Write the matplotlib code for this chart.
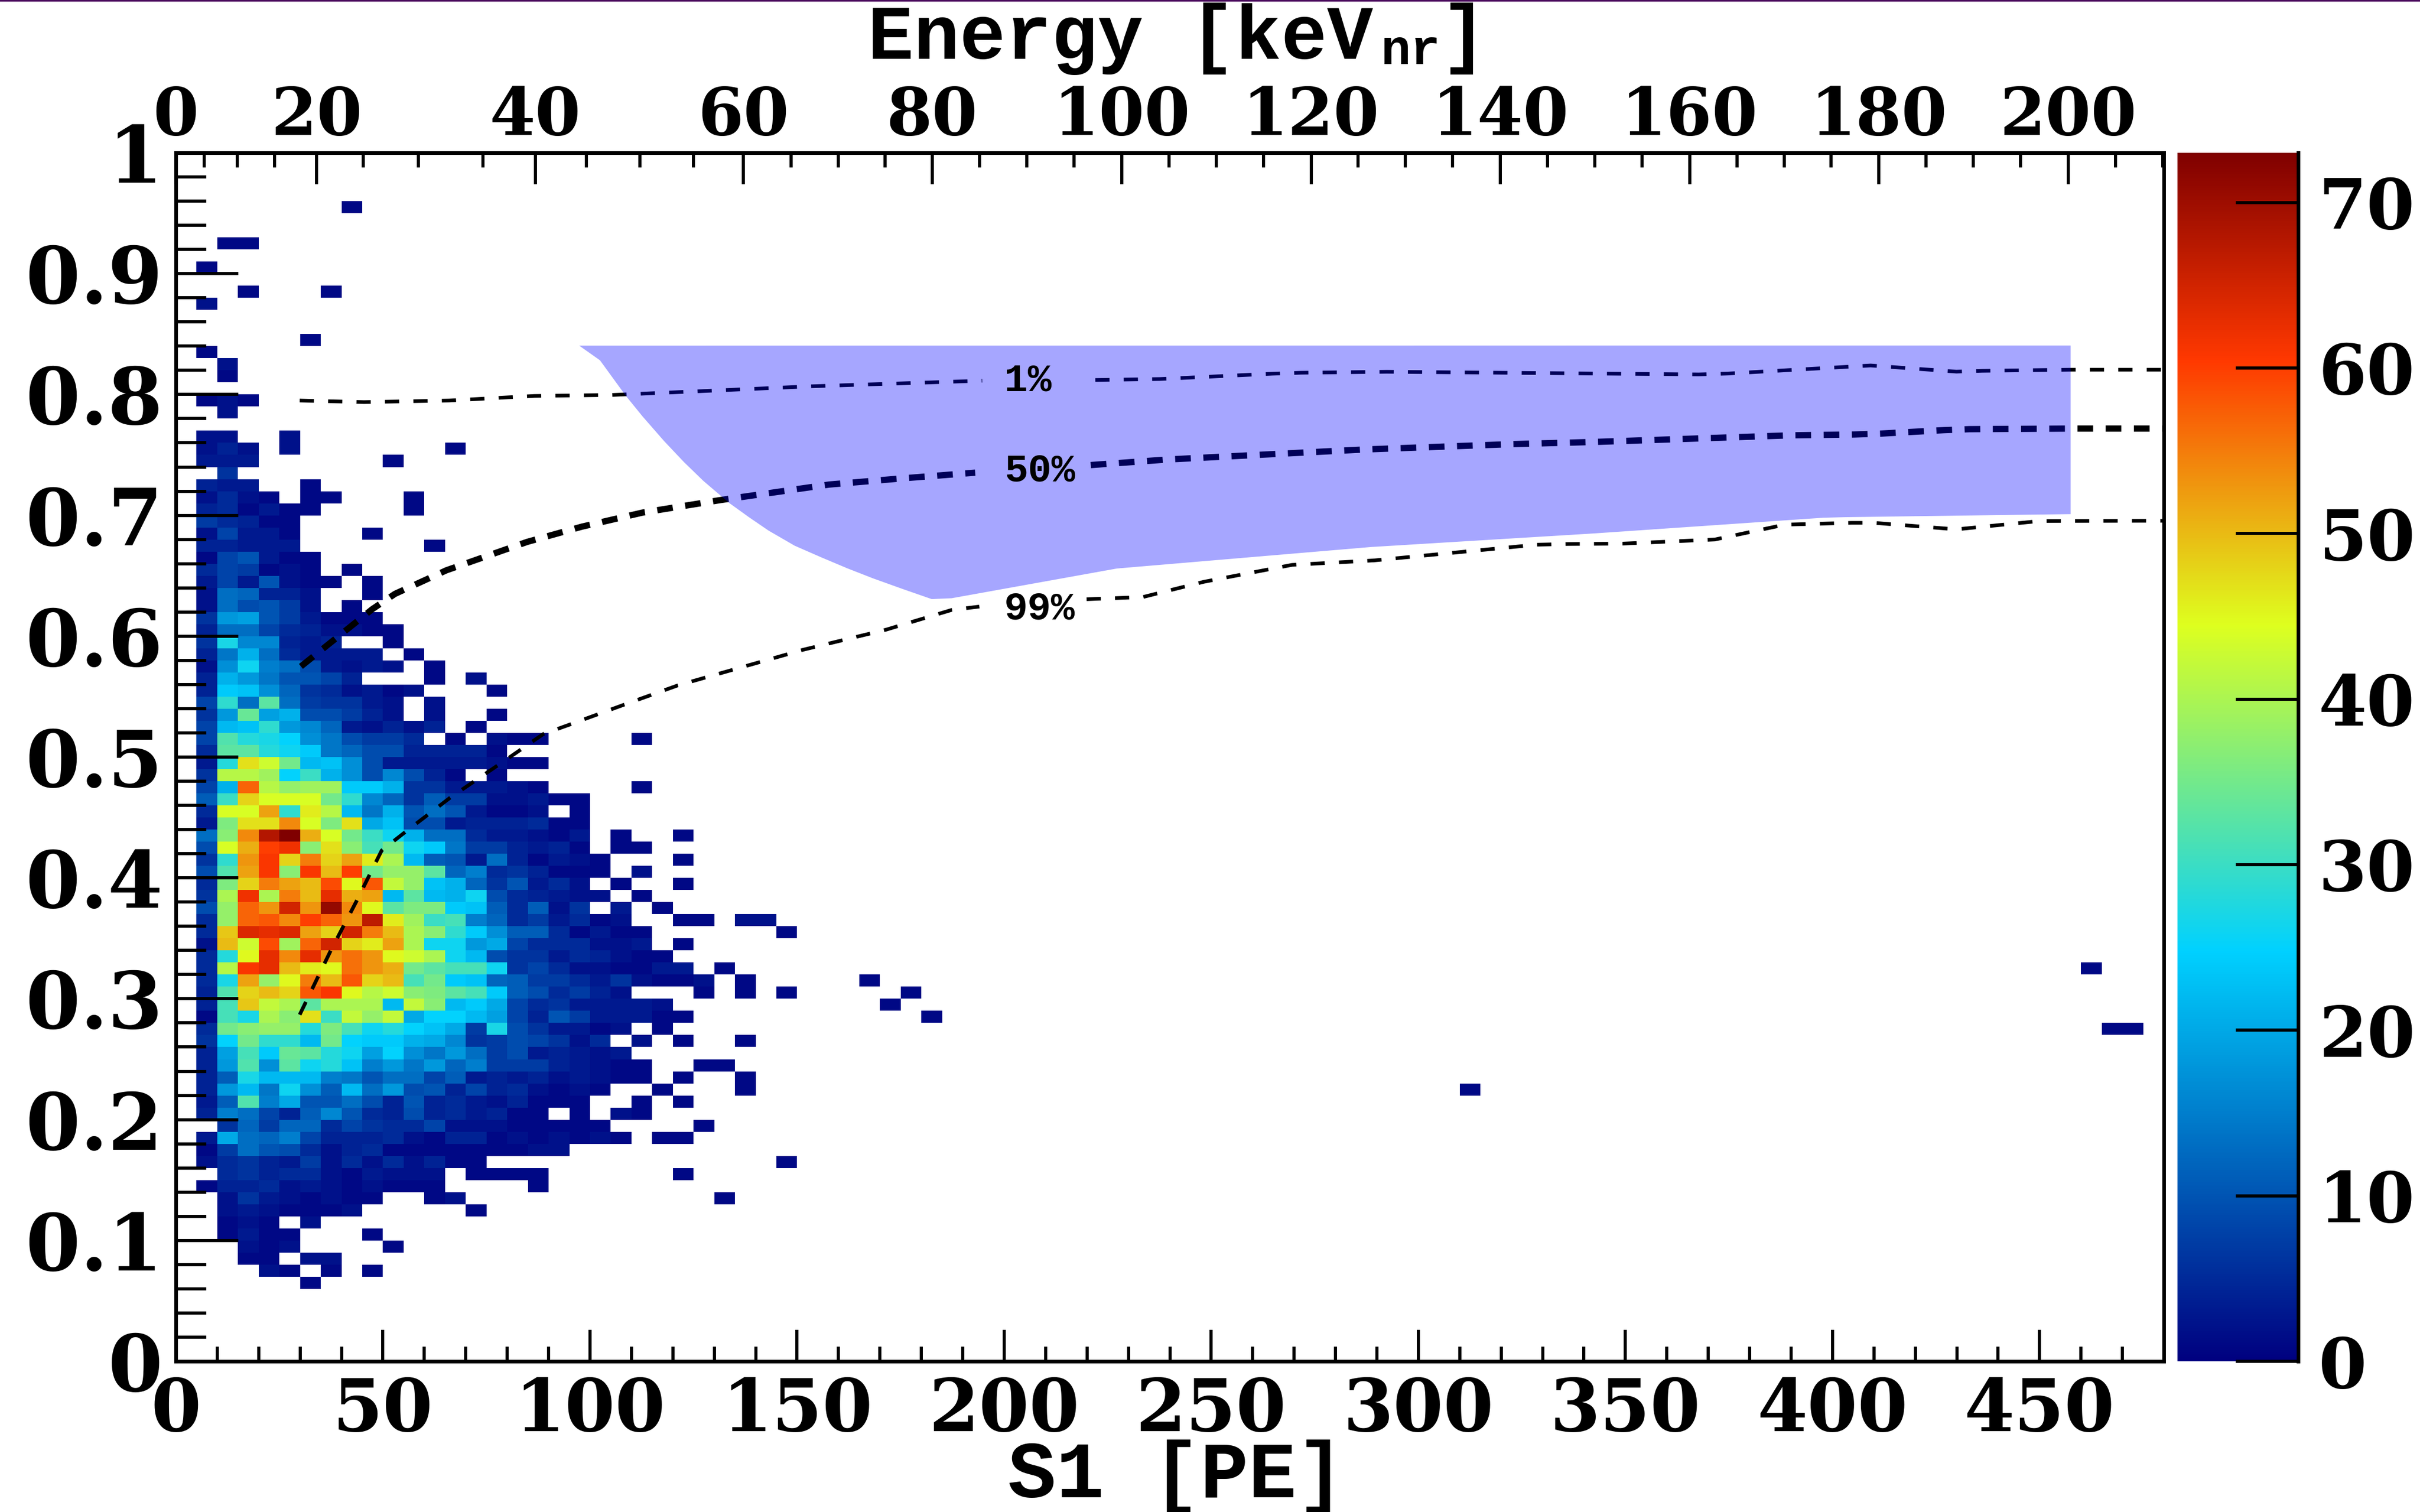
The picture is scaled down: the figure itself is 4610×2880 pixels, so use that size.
import numpy as np
import matplotlib
matplotlib.use("Agg")
import matplotlib.pyplot as plt
from matplotlib.colors import LinearSegmentedColormap
from matplotlib.patches import Rectangle

plt.rcParams['font.family'] = ['DejaVu Serif']
plt.rcParams['font.weight'] = 'bold'

# counts per row, r44 = S2/S1 bin 0.44-0.45, first entry is the S1 bin 5-10 PE
r06 = [0, 0, 0, 0, 0, 1]
r07 = [0, 0, 0, 2, 1, 0, 1, 0, 1]
r08 = [0, 0, 1, 1, 0, 2, 2]
r09 = [0, 0, 2, 1, 2, 0, 0, 0, 0, 1]
r10 = [0, 1, 3, 1, 1, 0, 0, 0, 1]
r11 = [0, 1, 2, 1, 0, 2]
r12 = [0, 2, 3, 2, 1, 1, 1, 2, 0, 0, 0, 0, 0, 1]
r13 = [0, 2, 6, 3, 2, 1, 2, 1, 1, 0, 0, 1, 2, 0, 0, 0, 0, 0, 0, 0, 0, 0, 0, 0, 0, 1]
r14 = [1, 4, 4, 5, 2, 3, 2, 1, 2, 1, 1, 1, 0, 0, 0, 0, 1]
r15 = [0, 5, 6, 4, 5, 5, 2, 1, 3, 2, 2, 2, 0, 1, 1, 1, 1, 0, 0, 0, 0, 0, 0, 1]
r16 = [2, 5, 6, 4, 3, 7, 2, 5, 2, 5, 2, 4, 1, 1, 0, 0, 0, 0, 0, 0, 0, 0, 0, 0, 0, 0, 0, 0, 1]
r17 = [1, 7, 13, 10, 9, 5, 2, 4, 5, 1, 1, 1, 1, 1, 1, 1, 2, 2]
r18 = [3, 20, 13, 12, 15, 8, 4, 4, 4, 5, 2, 1, 4, 4, 1, 2, 1, 2, 1, 2, 1, 0, 1, 1]
r19 = [0, 6, 12, 7, 12, 12, 5, 8, 6, 5, 5, 8, 2, 2, 2, 1, 1, 1, 1, 1, 0, 0, 0, 0, 1]
r20 = [4, 15, 13, 8, 4, 11, 16, 10, 5, 4, 9, 4, 5, 3, 4, 1, 1, 0, 1, 0, 2, 1]
r21 = [3, 11, 32, 15, 20, 10, 10, 13, 9, 4, 10, 4, 5, 3, 2, 4, 1, 1, 1, 0, 0, 1, 0, 1]
r22 = [4, 18, 22, 14, 26, 17, 11, 22, 13, 18, 9, 10, 4, 8, 4, 5, 2, 1, 2, 1, 0, 0, 1, 0, 0, 0, 1]
r23 = [4, 11, 27, 22, 22, 22, 15, 14, 10, 13, 13, 8, 11, 3, 4, 3, 4, 2, 3, 2, 1, 1, 0, 1, 0, 0, 1]
r24 = [4, 18, 32, 17, 33, 26, 28, 23, 15, 18, 14, 18, 12, 15, 7, 7, 7, 4, 3, 2, 1, 1, 0, 0, 1, 1]
r25 = [4, 19, 31, 24, 34, 33, 28, 26, 19, 25, 17, 14, 18, 13, 7, 9, 3, 4, 3, 2, 3]
r26 = [6, 25, 35, 29, 29, 22, 35, 25, 24, 24, 21, 20, 16, 6, 7, 9, 8, 6, 2, 5, 0, 2, 0, 1, 0, 0, 1]
r27 = [5, 35, 37, 38, 38, 28, 36, 31, 26, 28, 25, 23, 20, 7, 27, 9, 6, 3, 3, 1, 2, 0, 1]
r28 = [1, 31, 27, 40, 37, 47, 30, 42, 38, 42, 20, 25, 25, 22, 19, 8, 4, 10, 7, 3, 3, 3, 1, 1]
r29 = [4, 31, 49, 42, 40, 33, 40, 40, 40, 22, 42, 37, 22, 24, 20, 8, 5, 6, 3, 3, 3, 3, 2]
r30 = [4, 32, 48, 50, 48, 58, 61, 45, 41, 43, 37, 36, 33, 31, 24, 11, 9, 5, 7, 4, 2, 0, 0, 0, 1, 0, 1, 0, 1]
r31 = [5, 27, 52, 38, 45, 55, 50, 58, 48, 50, 31, 35, 24, 23, 12, 11, 7, 7, 5, 3, 6, 2, 1, 1, 2, 0, 1]
r32 = [5, 41, 61, 63, 50, 46, 45, 56, 53, 51, 35, 33, 31, 31, 26, 6, 8, 5, 2, 2, 1, 1, 3, 3, 0, 1]
r33 = [5, 28, 45, 63, 54, 63, 53, 56, 53, 45, 43, 40, 26, 22, 9, 6, 6, 3, 5, 4, 2, 1, 1]
r34 = [2, 50, 43, 59, 39, 57, 65, 48, 46, 52, 40, 26, 26, 18, 20, 8, 5, 5, 5, 2, 2, 3, 0, 1]
r35 = [5, 49, 64, 63, 64, 52, 48, 65, 55, 50, 40, 37, 29, 24, 17, 11, 11, 5, 1, 3, 1, 1, 0, 0, 0, 0, 0, 0, 1]
r36 = [5, 38, 57, 58, 54, 60, 57, 53, 67, 46, 39, 30, 31, 15, 12, 5, 7, 3, 5, 1, 2, 0, 0, 1, 1, 0, 2, 2]
r37 = [9, 38, 57, 53, 65, 53, 71, 54, 45, 33, 36, 36, 24, 23, 11, 5, 11, 2, 6, 0, 3, 0, 1]
r38 = [6, 40, 62, 40, 55, 50, 63, 51, 52, 22, 33, 22, 21, 26, 9, 5, 4, 3, 2, 2, 0, 1]
r39 = [5, 36, 48, 55, 52, 50, 59, 45, 58, 42, 38, 23, 21, 12, 6, 10, 3, 5, 2, 0, 1, 0, 0, 1]
r40 = [9, 32, 52, 61, 37, 61, 50, 60, 35, 38, 38, 33, 12, 15, 5, 6, 4, 1, 1, 1, 0, 2]
r41 = [6, 29, 53, 61, 48, 55, 48, 52, 46, 40, 22, 11, 10, 3, 13, 4, 1, 3, 2, 1, 0, 0, 0, 1]
r42 = [9, 44, 51, 60, 62, 37, 47, 37, 31, 35, 26, 24, 14, 7, 7, 4, 3, 4, 1, 0, 1, 1]
r43 = [13, 37, 54, 68, 73, 51, 44, 35, 30, 26, 21, 13, 13, 5, 3, 3, 2, 1, 3, 0, 1, 0, 0, 1]
r44 = [3, 36, 47, 47, 54, 44, 36, 47, 20, 23, 9, 9, 3, 4, 4, 4, 5, 1, 1]
r45 = [5, 44, 44, 52, 29, 46, 41, 22, 14, 21, 10, 13, 10, 3, 1, 1, 2, 0, 1]
r46 = [11, 30, 48, 44, 44, 44, 35, 29, 16, 12, 6, 11, 7, 7, 2, 2, 3, 1, 1]
r47 = [8, 21, 57, 41, 38, 39, 39, 24, 24, 21, 6, 6, 3, 3, 3, 2, 1, 0, 0, 0, 0, 1]
r48 = [6, 41, 41, 39, 25, 30, 21, 17, 9, 16, 9, 4, 1, 0, 1]
r49 = [3, 28, 47, 43, 35, 22, 23, 17, 9, 3, 3, 3, 3, 3, 2, 1, 1]
r50 = [5, 33, 33, 28, 26, 24, 14, 12, 9, 9, 4, 4, 4, 4, 1]
r51 = [8, 32, 28, 27, 25, 17, 14, 9, 7, 7, 5, 0, 1, 0, 2, 1, 1, 0, 0, 0, 0, 1]
r52 = [8, 22, 23, 29, 18, 16, 12, 3, 2, 4, 2, 4, 0, 1]
r53 = [6, 18, 34, 19, 21, 9, 9, 7, 4, 2, 0, 2, 0, 0, 1]
r54 = [8, 29, 13, 33, 13, 7, 6, 6, 3, 2, 0, 2]
r55 = [4, 24, 23, 17, 12, 6, 5, 2, 3, 1, 2, 0, 0, 0, 1]
r56 = [4, 21, 18, 14, 10, 10, 8, 4, 0, 0, 0, 1, 0, 2]
r57 = [2, 17, 26, 15, 13, 9, 3, 2, 3, 2, 0, 1]
r58 = [4, 14, 21, 13, 5, 3, 3, 3, 3, 0, 1]
r59 = [6, 27, 16, 16, 4, 3, 4, 0, 0, 1]
r60 = [4, 13, 13, 8, 5, 4, 2, 2, 1, 1]
r61 = [6, 18, 19, 10, 7, 3, 1, 1, 1]
r62 = [2, 13, 9, 10, 7, 2, 0, 1]
r63 = [2, 13, 12, 4, 4, 2, 0, 0, 1]
r64 = [3, 8, 3, 10, 2, 1, 1, 0, 1]
r65 = [5, 8, 7, 1, 2, 1, 0, 1]
r66 = [1, 8, 10, 3, 1, 1]
r67 = [4, 4, 3, 3, 3, 0, 0, 0, 0, 0, 0, 1]
r68 = [2, 8, 3, 3, 1, 0, 0, 0, 1]
r69 = [7, 5, 4, 1, 1]
r70 = [4, 5, 1, 3, 1, 1, 0, 0, 0, 0, 1]
r71 = [2, 5, 2, 1, 0, 1, 1, 0, 0, 0, 1]
r72 = [4, 3, 3, 0, 0, 1]
r73 = [0, 6]
r74 = [3, 3, 3, 0, 0, 0, 0, 0, 0, 1]
r75 = [2, 4, 2, 0, 2, 0, 0, 0, 0, 0, 0, 0, 1]
r76 = [2, 2, 0, 0, 2]
r78 = [0, 2]
r79 = [1, 2, 1]
r81 = [0, 1]
r82 = [0, 2]
r83 = [1]
r84 = [0, 0, 0, 0, 0, 1]
r87 = [2]
r88 = [0, 0, 1, 0, 0, 0, 1]
r90 = [1]
r92 = [0, 1, 1]
r95 = [0, 0, 0, 0, 0, 0, 0, 1]

rows = [(6, r06), (7, r07), (8, r08), (9, r09), (10, r10), (11, r11), (12, r12), (13, r13),
        (14, r14), (15, r15), (16, r16), (17, r17), (18, r18), (19, r19), (20, r20), (21, r21),
        (22, r22), (23, r23), (24, r24), (25, r25), (26, r26), (27, r27), (28, r28), (29, r29),
        (30, r30), (31, r31), (32, r32), (33, r33), (34, r34), (35, r35), (36, r36), (37, r37),
        (38, r38), (39, r39), (40, r40), (41, r41), (42, r42), (43, r43), (44, r44), (45, r45),
        (46, r46), (47, r47), (48, r48), (49, r49), (50, r50), (51, r51), (52, r52), (53, r53),
        (54, r54), (55, r55), (56, r56), (57, r57), (58, r58), (59, r59), (60, r60), (61, r61),
        (62, r62), (63, r63), (64, r64), (65, r65), (66, r66), (67, r67), (68, r68), (69, r69),
        (70, r70), (71, r71), (72, r72), (73, r73), (74, r74), (75, r75), (76, r76), (78, r78),
        (79, r79), (81, r81), (82, r82), (83, r83), (84, r84), (87, r87), (88, r88), (90, r90),
        (92, r92), (95, r95)]

# single events far from the main population
far_s1 = [165, 175, 170, 180, 460, 465, 470, 310]
far_ratio = [31, 30, 29, 28, 32, 27, 27, 22]

# acceptance lines, nan is the gap left for the label
line01_s1 = [29.9, 45.4, 66, 86.5, 105.3, 126.3, 153.6, 194.7, np.nan, 222, 237.6, 264.8, 271.7,
             292.4, 320.1, 367.7, 374.6, 409.2, 429.9, 436.1, 457.5, 480]
line01_y = [.795, .7937, .795, .7988, .7996, .8027, .8068, .8114, np.nan, .812, .8128, .8172, .818,
            .8188, .818, .8166, .8173, .824, .8189, .8196, .8205, .8205]
line50_s1 = [30.2, 47.4, 52.9, 65.3, 84.8, 98, 112.7, 131.6, 157.8, 174.7, 193, np.nan, 220.9, 239.4,
             287, 322.4, 342.3, 389.9, 405.3, 411.5, 426.9, 433, 457.5, 480]
line50_y = [.575, .6223, .635, .6545, .678, .6906, .7023, .7127, .7255, .7304, .7353, np.nan, .7416, .7462,
            .7545, .7589, .7607, .7662, .7669, .7676, .7705, .7713, .7718, .7718]
line99_s1 = [29.9, 37.3, 43.5, 49.7, 55.4, 66.2, 80.5, 88.7, 95.2, 108.2, 121.2, 151.6, 171.5, 187.3, 194,
             np.nan, 219.9, 233.5, 248.2, 269.5, 289.3, 328.5, 336.2, 349.3, 371.6, 388.5, 404.6, 410,
             429.9, 450, 474.5, 480]
line99_y = [.2868, .3392, .38, .4227, .438, .4663, .4996, .519, .527, .5433, .5593, .5889, .6054, .6217, .6245,
            np.nan, .6306, .6324, .645, .659, .6627, .6757, .6763, .6766, .68, .6923, .6938, .6938,
            .6884, .6953, .6955, .6955]

band_s1 = [97.4, 102.4, 108.6, 112.7, 117.9, 122.7, 127.4, 133.7, 138.4, 143.1, 149.4, 155.8, 162.1, 168.3,
           175.7, 182.5, 187.3, 227.2, 288.6, 342.3, 397.7, 403, 457.5, 457.5]
band_y = [.8404, .8283, .7991, .7818, .7614, .744, .7284, .71, .6984, .6874, .6749, .6653, .6562, .6479,
          .6388, .6307, .6314, .656, .6738, .685, .698, .6985, .701, .8405]

# top axis, S1 position of every 5 keV tick
energy_ticks = list(range(0, 215, 5))
energy_pe = [0, 6.9, 14.8, 23.8, 34, 45.2, 58.6, 74.2, 86.8, 99.1, 112, 125, 137, 148.5, 159.9, 171.3,
             182.6, 194, 205.5, 216.9, 228.4, 239.8, 251.2, 262.6, 274.1, 285.5, 296.9, 308.3, 319.8,
             331.2, 342.6, 354, 365.5, 376.9, 388.3, 399.7, 411.2, 422.6, 434, 445.4, 456.9, 468.3, 479.7]

W, H = 4610, 2880
mono = 'Liberation Mono'


def px_box(left, top, right, bottom):
    return [left / W, 1 - bottom / H, (right - left) / W, (bottom - top) / H]


def title_part(x_px, y_px, txt, size):
    plt.gcf().text(x_px / W, 1 - y_px / H, txt, family=mono, weight='bold', fontsize=size, ha='left', va='baseline')


def main():
    # 96 x 100 bins
    counts = np.zeros((100, 96))
    for k, row in rows:
        counts[k, 1:len(row) + 1] = row
    for s, r in zip(far_s1, far_ratio):
        counts[r, s // 5] = 1
    x_edges = np.arange(0, 485, 5)
    y_edges = np.arange(0, 101) / 100

    palette = LinearSegmentedColormap.from_list('root', [
        (0, (0, 0, .5)), (24.8 / 73, (0, .82, 1)), (44.5 / 73, (.87, 1, .12)),
        (60.5 / 73, (1, .22, 0)), (1, (.5, 0, 0))], N=512)

    fig = plt.figure(figsize=(W / 100, H / 100), dpi=100, facecolor='white')
    fig.add_artist(Rectangle((0, 1 - 3 / H), 1, 3 / H, color='#4b0a5e', transform=fig.transFigure, lw=0))

    ax = fig.add_axes(px_box(335, 291, 4122, 2593))
    mesh = ax.pcolormesh(x_edges, y_edges, np.ma.masked_equal(counts, 0), cmap=palette, vmin=0, vmax=73,
                         antialiased=False, zorder=1)
    ax.set_xlim(0, 480)
    ax.set_ylim(0, 1)

    ax.plot(line01_s1, line01_y, color='black', lw=5, dashes=(3.9, 3.9), dash_capstyle='butt', zorder=4)
    ax.plot(line50_s1, line50_y, color='black', lw=8.6, dashes=(2.5, 2), dash_capstyle='butt', zorder=4)
    ax.plot(line99_s1, line99_y, color='black', lw=5, dashes=(3.9, 3.9), dash_capstyle='butt', zorder=4)
    ax.fill(band_s1, band_y, color='blue', alpha=.35, lw=0, zorder=5)

    for txt, y in zip(['1%', '50%', '99%'], [.8114, .7368, .6223]):
        ax.text(200, y, txt, family=mono, weight='bold', fontsize=54, ha='left', va='center', zorder=6)

    ax.set_xticks(np.arange(0, 500, 50))
    ax.set_xticks(np.arange(0, 490, 10), minor=True)
    ax.set_yticks(np.arange(0, 11) / 10)
    ax.set_yticks(np.arange(0, 51) / 50, minor=True)
    ax.set_yticklabels(['0', '0.1', '0.2', '0.3', '0.4', '0.5', '0.6', '0.7', '0.8', '0.9', '1'])
    ax.tick_params(axis='x', which='major', direction='in', length=43, width=4.3, labelsize=99, pad=20)
    ax.tick_params(axis='x', which='minor', direction='in', length=20, width=4.3)
    ax.tick_params(axis='y', which='major', direction='in', length=86, width=4.3, labelsize=108, pad=18)
    ax.tick_params(axis='y', which='minor', direction='in', length=42, width=4.3)
    for spine in ax.spines.values():
        spine.set_linewidth(4.8)

    top = ax.twiny()
    top.set_xlim(0, 480)
    major = [p for e, p in zip(energy_ticks, energy_pe) if e % 20 == 0]
    labels = [str(e) for e in energy_ticks if e % 20 == 0]
    top.set_xticks(major)
    top.set_xticklabels(labels)
    top.set_xticks([p for e, p in zip(energy_ticks, energy_pe) if e % 20 != 0], minor=True)
    top.tick_params(axis='x', which='major', direction='in', length=43, width=4.3, labelsize=90, pad=6)
    top.tick_params(axis='x', which='minor', direction='in', length=20, width=4.3)
    for spine in top.spines.values():
        spine.set_linewidth(4.8)

    cax = fig.add_axes(px_box(4148, 291, 4378, 2593))
    cbar = fig.colorbar(mesh, cax=cax, ticks=np.arange(0, 80, 10))
    cbar.outline.set_visible(False)
    cax.tick_params(axis='y', which='major', direction='in', length=86, width=4.3, labelsize=95, pad=28)
    cax.axvline(1, color='black', lw=5, clip_on=False)

    title_part(1653, 112, 'Energy [keV', 105)
    title_part(2631, 122, 'nr', 68)
    title_part(2745, 112, ']', 105)
    title_part(1920, 2852, 'S1 [PE]', 110)

    fig.savefig('out.png', dpi=100)


if __name__ == "__main__":
    main()
